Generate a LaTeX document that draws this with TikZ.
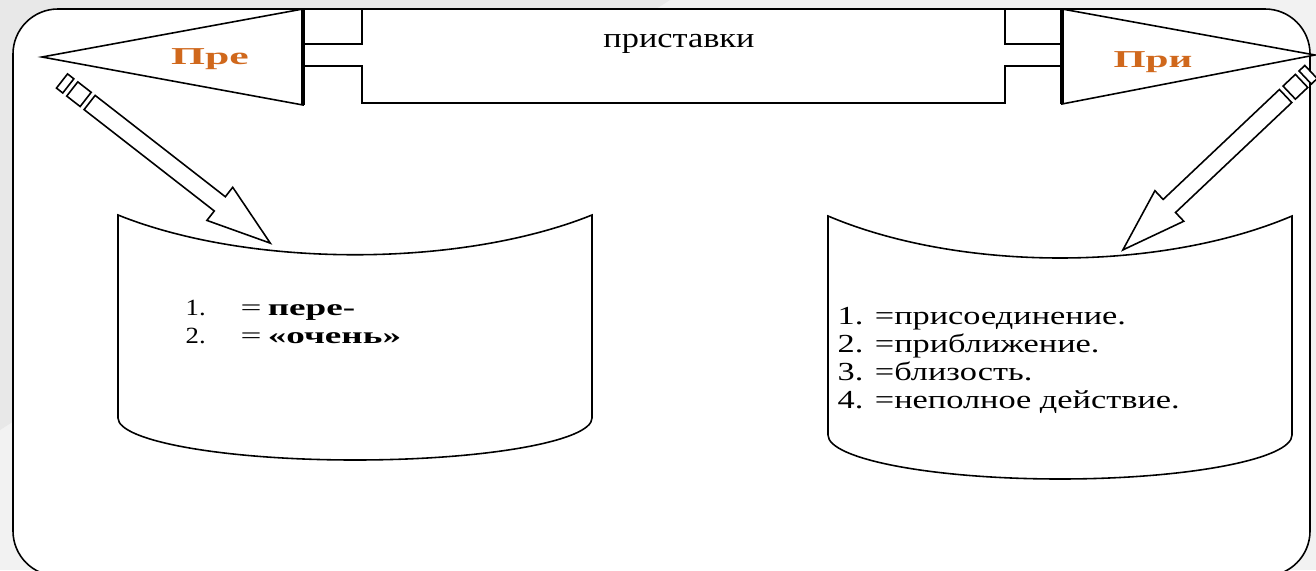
\documentclass[tikz,border=0pt]{standalone}
\usepackage{fontspec}
\setmainfont{Liberation Serif}
\usepackage{graphicx}
\usepackage{xcolor}
\usepackage{tikz}

\definecolor{prefixorange}{RGB}{208,104,28}
\newcommand{\hstretch}[2]{\scalebox{#1}[1]{#2}}

\tikzset{
  stripearrow/.pic={
    \draw[outline] (0,-9) rectangle (8,9);
    \draw[outline] (13,-9) rectangle (30,9);
    \draw[outline] (35,-9) -- ({#1-64},-9) -- ({#1-64},-21) -- (#1,0)
      -- ({#1-64},21) -- ({#1-64},9) -- (35,9) -- cycle;
  }
}

\begin{document}
\begin{tikzpicture}[x=0.01cm, y=-0.01cm,
    outline/.style={draw=black, fill=white, line width=0.45pt},
    bannerline/.style={draw=black, line width=0.45pt},
    pennantbase/.style={draw=black, line width=1.1pt},
    prefixlabel/.style={text=prefixorange, inner sep=0pt, anchor=base,
      font=\fontsize{6.9}{8}\selectfont\bfseries},
    headtext/.style={inner sep=0pt, anchor=base, font=\fontsize{8}{9}\selectfont},
    pretext/.style={inner sep=0pt, anchor=base west, font=\fontsize{6.6}{7}\selectfont},
    pritext/.style={inner sep=0pt, anchor=base west, font=\fontsize{7.4}{8}\selectfont}]

    \useasboundingbox (0,0) rectangle (1316,570);
    \clip (0,0) rectangle (1316,570);

    % background
    \fill[gray!10] (0,0) rectangle (1316,570);
    \fill[gray!18] (0,0) -- (670,0) -- (0,430) -- cycle;

    % slide frame
    \draw[outline, rounded corners=0.45cm] (13,9) rectangle (1310,576);

    % banner
    \draw[bannerline] (303,44) -- (362,44) -- (362,9);
    \draw[bannerline] (303,66) -- (362,66) -- (362,103) -- (1005,103) -- (1005,66) -- (1062,66);
    \draw[bannerline] (1062,44) -- (1005,44) -- (1005,9);
    \node[headtext] (banner) at (679,48) {\hstretch{1.22}{приставки}};

    % pennants
    \coordinate (preApex) at (42,57);
    \coordinate (priApex) at (1315,55);
    \draw[outline] (preApex) -- (303,9) -- (303,105) -- cycle;
    \draw[pennantbase] (303,9) -- (303,105);
    \draw[outline] (priApex) -- (1062,9) -- (1062,104) -- cycle;
    \draw[pennantbase] (1062,9) -- (1062,104);
    \node[prefixlabel] (pre) at (210,65) {\hstretch{1.8}{Пре}};
    \node[prefixlabel] (pri) at (1153,68) {\hstretch{1.7}{При}};

    % scrolls
    \draw[outline] (118,215) .. controls (250,268) and (460,268) .. (592,215)
      -- (592,418) .. controls (592,441) and (486,460) .. (355,460)
      .. controls (224,460) and (118,441) .. (118,418) -- cycle;
    \draw[outline] (828,216) .. controls (960,272) and (1160,272) .. (1292,216)
      -- (1292,435) .. controls (1292,459) and (1188,479) .. (1060,479)
      .. controls (932,479) and (828,459) .. (828,435) -- cycle;

    % arrows
    \coordinate (preTail) at (62,81);
    \coordinate (priTail) at (1311,72);
    \pic[rotate=-37.9] at (preTail) {stripearrow=264};
    \pic[rotate=223.4] at (priTail) {stripearrow=259};

    % lists
    \foreach \num/\word in {1/пере-, 2/«очень»} {
        \node[pretext] (preNum\num) at (185, {315+28*(\num-1)}) {\hstretch{1.15}{\num.}};
        \node[pretext] (preItem\num) at (240, {315+28*(\num-1)}) {\hstretch{1.6}{=\,\textbf{\word}}};
    }
    \foreach \word [count=\i] in {присоединение., приближение., близость., неполное действие.}
        \node[pritext] (priItem\i) at (837, {324+28.3*(\i-1)}) {\hstretch{1.32}{\i. =\word}};
\end{tikzpicture}
\end{document}
